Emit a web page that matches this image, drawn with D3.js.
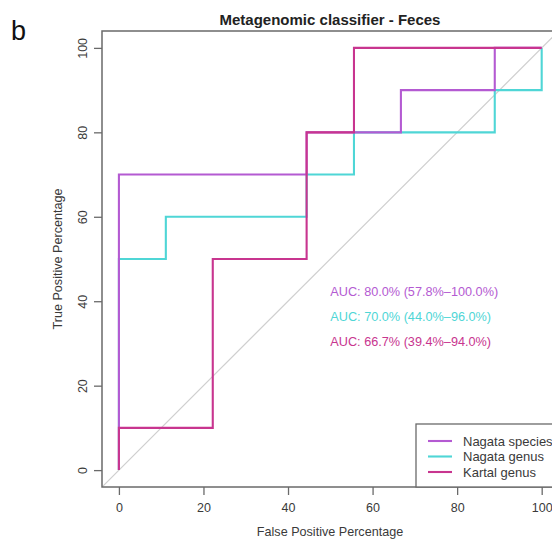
<!DOCTYPE html>
<html>
<head>
<meta charset="utf-8">
<script src="https://cdn.jsdelivr.net/npm/d3@7"></script>
<style>
  html, body { margin: 0; padding: 0; background: #fff; }
  svg { display: block; font-family: "Liberation Sans", Arial, sans-serif; }
</style>
</head>
<body>
<svg id="chart" width="552" height="542"></svg>
<script>
// ROC step curves: false positive % (x) and true positive % (y)
const seriesNames = ["Nagata species", "Nagata genus", "Kartal genus"];
const seriesColors = ["#b45ad2", "#4fd6d6", "#c8358f"];

const speciesFPR = [0, 0, 44.4, 44.4, 66.7, 66.7, 88.9, 88.9, 100];
const speciesTPR = [0, 70, 70, 80, 80, 90, 90, 100, 100];

const genusFPR = [0, 0, 11.1, 11.1, 44.4, 44.4, 55.6, 55.6, 88.9, 88.9, 100, 100];
const genusTPR = [0, 50, 50, 60, 60, 70, 70, 80, 80, 90, 90, 100];

const kartalFPR = [0, 0, 22.2, 22.2, 44.4, 44.4, 55.6, 55.6, 100];
const kartalTPR = [0, 10, 10, 50, 50, 80, 80, 100, 100];

const aucLabels = [
  "AUC: 80.0% (57.8%\u2013100.0%)",
  "AUC: 70.0% (44.0%\u201396.0%)",
  "AUC: 66.7% (39.4%\u201394.0%)"
];
const tickValues = [0, 20, 40, 60, 80, 100];

const svg = d3.select("#chart");

// plotting region (axis range padded by 4% on each side)
const x = d3.scaleLinear().domain([-4, 104]).range([102, 558.6]);
const y = d3.scaleLinear().domain([-4, 104]).range([487, 31]);

const axisGrey = "#6a6a6a";
const textGrey = "#3a3a3a";

// panel letter and title
svg.append("text").attr("x", 11).attr("y", 40)
  .attr("font-size", 27).attr("fill", "#111").text("b");
svg.append("text").attr("x", 330).attr("y", 25)
  .attr("text-anchor", "middle").attr("font-size", 15)
  .attr("font-weight", "bold").attr("fill", "#222")
  .text("Metagenomic classifier - Feces");

// clip to the plot box
svg.append("clipPath").attr("id", "plotClip").append("rect")
  .attr("x", x(-4)).attr("y", y(104))
  .attr("width", x(104) - x(-4)).attr("height", y(-4) - y(104));

const plot = svg.append("g").attr("clip-path", "url(#plotClip)");

// identity reference line
plot.append("line")
  .attr("x1", x(-4)).attr("y1", y(-4))
  .attr("x2", x(104)).attr("y2", y(104))
  .attr("stroke", "#cfcfcf").attr("stroke-width", 1.2);

const line = d3.line().x(d => x(d[0])).y(d => y(d[1]));
const curves = [
  d3.zip(speciesFPR, speciesTPR),
  d3.zip(genusFPR, genusTPR),
  d3.zip(kartalFPR, kartalTPR)
];
// genus underneath, then species, then Kartal on top
[1, 0, 2].forEach(i => {
  plot.append("path").datum(curves[i])
    .attr("d", line)
    .attr("fill", "none")
    .attr("stroke", seriesColors[i])
    .attr("stroke-width", 2.1)
    .attr("stroke-linejoin", "miter");
});

// AUC annotations
aucLabels.forEach((t, i) => {
  svg.append("text")
    .attr("x", x(50)).attr("y", y(42.3 - i * 5.9))
    .attr("dy", "0.35em")
    .attr("font-size", 12.7).attr("fill", seriesColors[i])
    .text(t);
});

// axes
const xAxis = svg.append("g").attr("transform", `translate(0,${y(-4)})`)
  .call(d3.axisBottom(x).tickValues(tickValues).tickSize(8).tickPadding(8));
const yAxis = svg.append("g").attr("transform", `translate(${x(-4)},0)`)
  .call(d3.axisLeft(y).tickValues(tickValues).tickSize(8));
[xAxis, yAxis].forEach(g => {
  g.select(".domain").remove();
  g.selectAll(".tick line").attr("stroke", axisGrey).attr("stroke-width", 1.3);
  g.selectAll(".tick text").attr("font-size", 12.5).attr("fill", textGrey)
    .attr("font-family", "Liberation Sans, Arial, sans-serif");
});
// y tick labels read bottom-to-top, R style
yAxis.selectAll(".tick text")
  .attr("text-anchor", "middle")
  .attr("x", 0).attr("y", 0).attr("dy", null)
  .attr("transform", "translate(-15,0) rotate(-90)");

// axis titles
svg.append("text").attr("x", 330).attr("y", 536)
  .attr("text-anchor", "middle").attr("font-size", 12.6).attr("fill", textGrey)
  .text("False Positive Percentage");
svg.append("text")
  .attr("transform", `translate(62,${(y(-4) + y(104)) / 2}) rotate(-90)`)
  .attr("text-anchor", "middle").attr("font-size", 12.6).attr("fill", textGrey)
  .text("True Positive Percentage");

// plot frame
svg.append("rect")
  .attr("x", x(-4)).attr("y", y(104))
  .attr("width", x(104) - x(-4)).attr("height", y(-4) - y(104))
  .attr("fill", "none").attr("stroke", axisGrey).attr("stroke-width", 1.5);

// legend in bottom-right corner
const legend = svg.append("g");
legend.append("rect")
  .attr("x", 416).attr("y", 424)
  .attr("width", x(104) - 416).attr("height", y(-4) - 424)
  .attr("fill", "#fff").attr("stroke", axisGrey).attr("stroke-width", 1.3);
seriesNames.forEach((name, i) => {
  const ly = 441 + i * 15.5;
  legend.append("line")
    .attr("x1", 428).attr("x2", 452).attr("y1", ly).attr("y2", ly)
    .attr("stroke", seriesColors[i]).attr("stroke-width", 2.1);
  legend.append("text").attr("x", 463).attr("y", ly).attr("dy", "0.35em")
    .attr("font-size", 13).attr("fill", textGrey).text(name);
});
</script>
</body>
</html>
